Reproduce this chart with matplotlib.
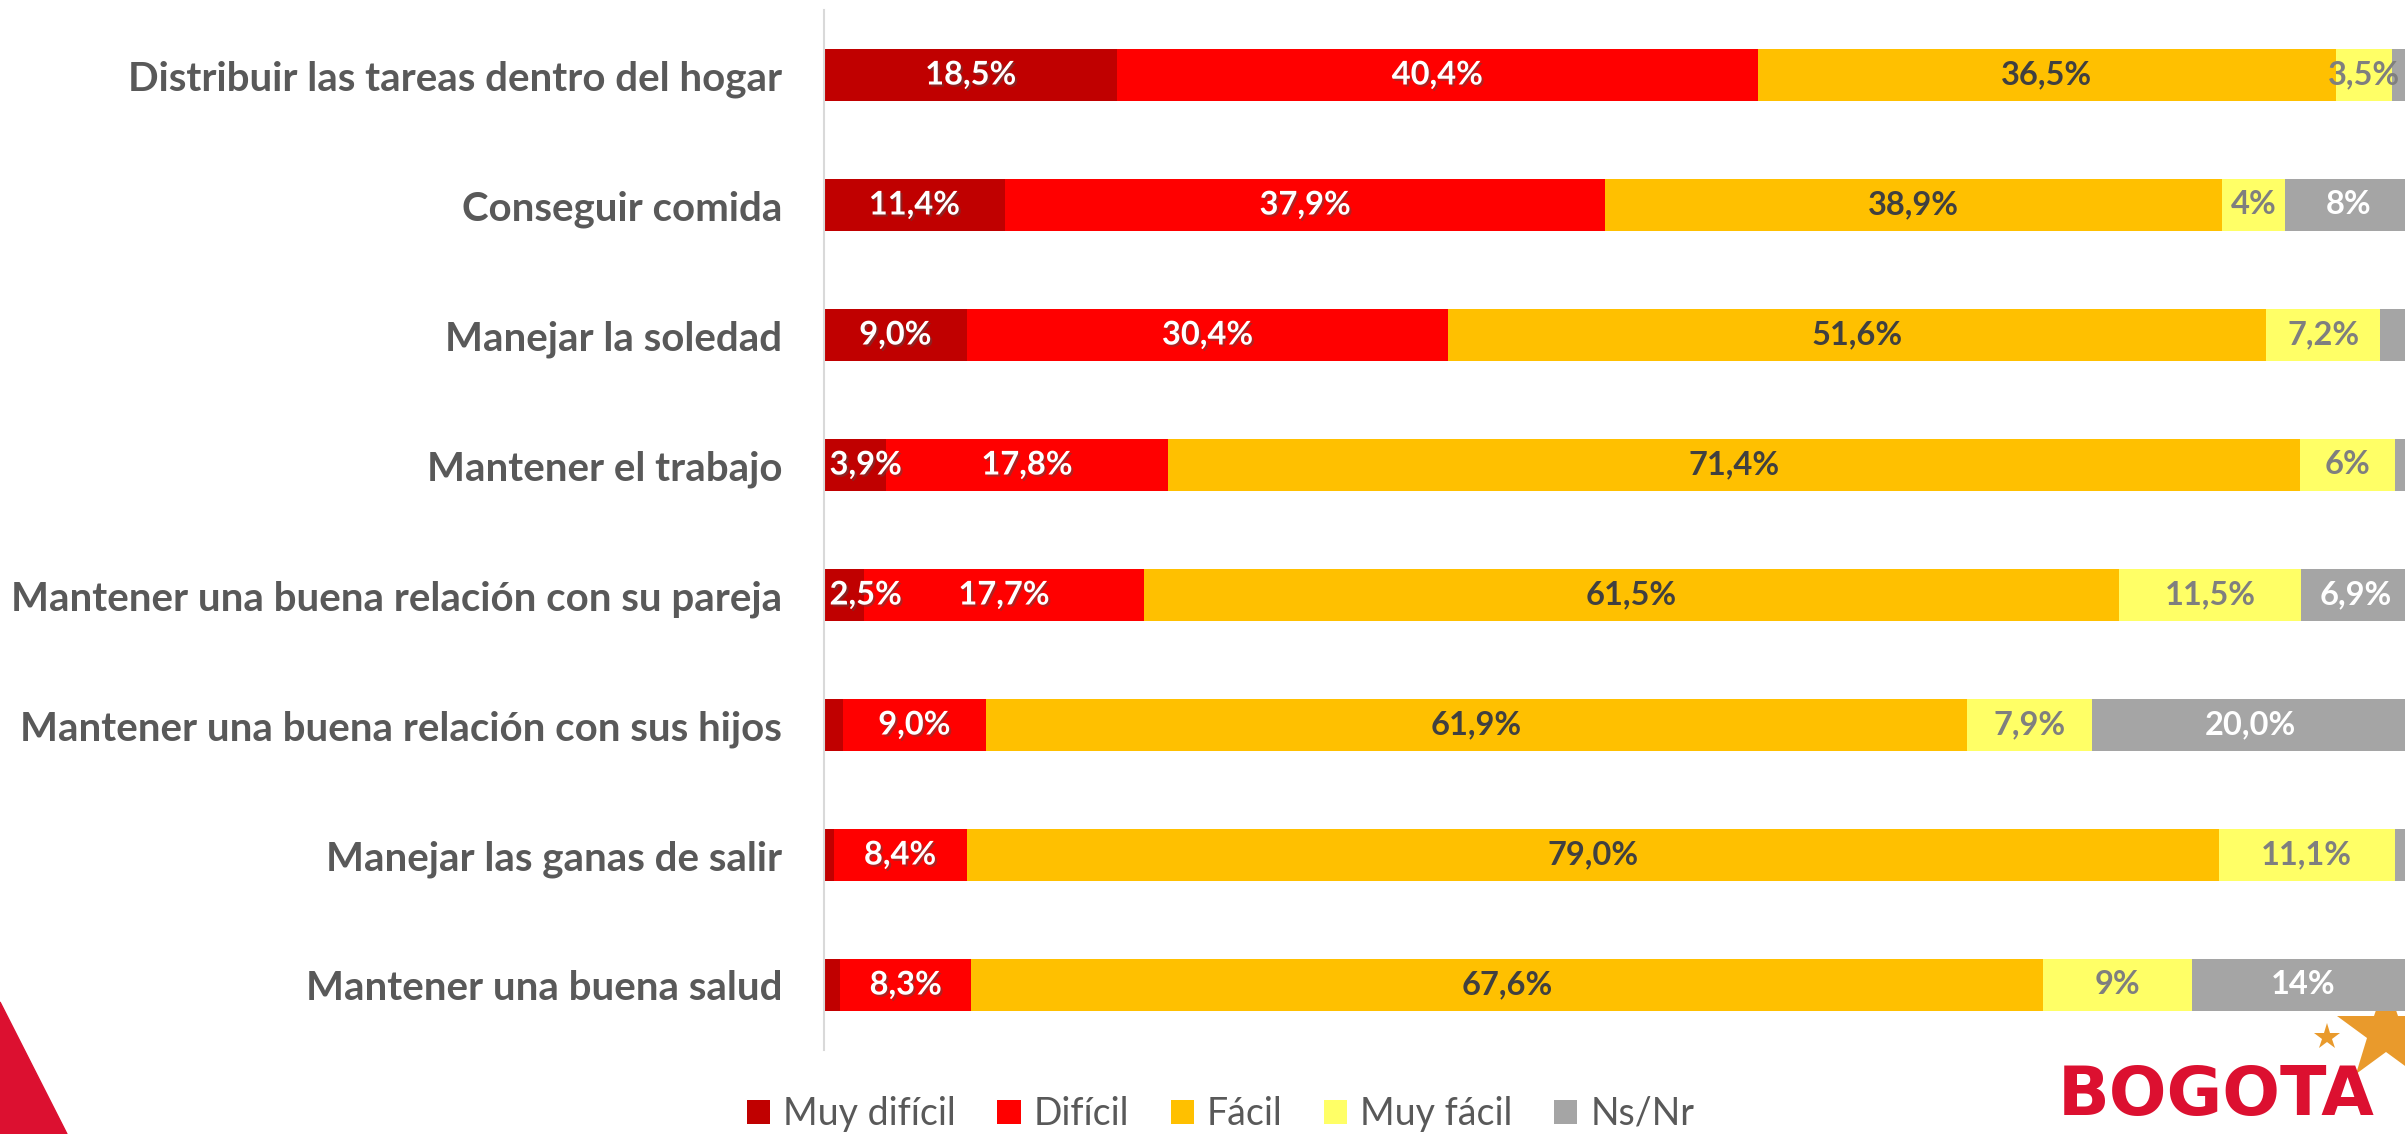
import matplotlib
matplotlib.use("Agg")
import matplotlib.pyplot as plt
import matplotlib.patheffects as pe
from matplotlib.patches import Patch, Polygon

plt.rcParams["font.family"] = ["Lato", "DejaVu Sans"]

categories = [
    "Distribuir las tareas dentro del hogar",
    "Conseguir comida",
    "Manejar la soledad",
    "Mantener el trabajo",
    "Mantener una buena relación con su pareja",
    "Mantener una buena relación con sus hijos",
    "Manejar las ganas de salir",
    "Mantener una buena salud",
]
series_names = ["Muy difícil", "Difícil", "Fácil", "Muy fácil", "Ns/Nr"]

muy_dificil = [18.5, 11.4, 9.0, 3.9, 2.5, 1.2, 0.6, 1.0]
dificil = [40.4, 37.9, 30.4, 17.8, 17.7, 9.0, 8.4, 8.3]
facil = [36.5, 38.9, 51.6, 71.4, 61.5, 61.9, 79.0, 67.6]
muy_facil = [3.5, 4.0, 7.2, 6.0, 11.5, 7.9, 11.1, 9.4]
ns_nr = [1.1, 8.0, 1.8, 0.9, 6.9, 20.0, 0.9, 14.0]

# data labels as printed on the chart (None = no label)
lbl_muy_dificil = ["18,5%", "11,4%", "9,0%", "3,9%", "2,5%", None, None, None]
lbl_dificil = ["40,4%", "37,9%", "30,4%", "17,8%", "17,7%", "9,0%", "8,4%", "8,3%"]
lbl_facil = ["36,5%", "38,9%", "51,6%", "71,4%", "61,5%", "61,9%", "79,0%", "67,6%"]
lbl_muy_facil = ["3,5%", "4%", "7,2%", "6%", "11,5%", "7,9%", "11,1%", "9%"]
lbl_ns_nr = [None, "8%", None, None, "6,9%", "20,0%", None, "14%"]

colors = ["#C00000", "#FF0000", "#FFC000", "#FFFF66", "#A5A5A5"]
text_colors = ["white", "white", "#404040", "#7F7F7F", "white"]

series = [muy_dificil, dificil, facil, muy_facil, ns_nr]
labels = [lbl_muy_dificil, lbl_dificil, lbl_facil, lbl_muy_facil, lbl_ns_nr]

W, H = 2405, 1134
fig = plt.figure(figsize=(W / 100, H / 100), dpi=100)
ax = fig.add_axes([824 / W, 84 / H, 1585 / W, 1040 / H])
ax.patch.set_alpha(0)

y = list(range(len(categories)))
left = [0.0] * len(categories)
shadow = [pe.SimplePatchShadow(offset=(1.5, -1.5), alpha=0.45), pe.Normal()]
for vals, lbls, col, tcol in zip(series, labels, colors, text_colors):
    ax.barh(y, vals, left=left, height=0.4, color=col, linewidth=0)
    for i, (v, t) in enumerate(zip(vals, lbls)):
        if t is None:
            continue
        x, ha = left[i] + v / 2, "center"
        if left[i] == 0 and v < 4.5:
            # keep the label inside the plot area, like Excel does
            x, ha = 0.35, "left"
        ax.text(x, i, t, ha=ha, va="center", fontsize=23.5, fontweight="bold", color=tcol,
                path_effects=shadow if tcol == "white" and col != "#A5A5A5" else None)
    left = [l + v for l, v in zip(left, vals)]

ax.set_xlim(0, 100)
ax.set_ylim(len(categories) - 0.5, -0.5)
ax.set_yticks(y)
ax.set_yticklabels(categories, fontsize=29, fontweight="bold", color="#595959")
ax.tick_params(axis="y", length=0, pad=30)
ax.set_xticks([])
for s in ["top", "right", "bottom"]:
    ax.spines[s].set_visible(False)
ax.spines["left"].set_color("#D9D9D9")
ax.spines["left"].set_linewidth(1.5)

handles = [Patch(facecolor=c, label=n) for c, n in zip(colors, series_names)]
fig.legend(handles=handles, loc="center left", bbox_to_anchor=(747 / W, 20 / H), ncol=5,
           frameon=False, fontsize=27, handlelength=0.62, handleheight=0.62,
           handletextpad=0.35, columnspacing=1.1, labelcolor="#595959",
           borderpad=0, borderaxespad=0)

# decorations: corner triangle and logo (drawn behind the bars)
deco = fig.add_axes([0, 0, 1, 1], zorder=-1)
deco.set_xlim(0, W)
deco.set_ylim(H, 0)
deco.axis("off")
deco.add_patch(Polygon([(0, 1002), (67, 1134), (0, 1134)], closed=True, color="#DC1030"))
deco.plot([2386], [1032], marker="*", markersize=74, color="#E99A2C", markeredgewidth=0)
deco.plot([2327], [1037], marker="*", markersize=20, color="#E99A2C", markeredgewidth=0)
fig.text(2058 / W, 19 / H, "BOGOTA", family="DejaVu Sans", fontweight="bold",
         fontsize=49, color="#DC1030", va="baseline", ha="left")

fig.savefig("out.png", dpi=100)
plt.close(fig)
